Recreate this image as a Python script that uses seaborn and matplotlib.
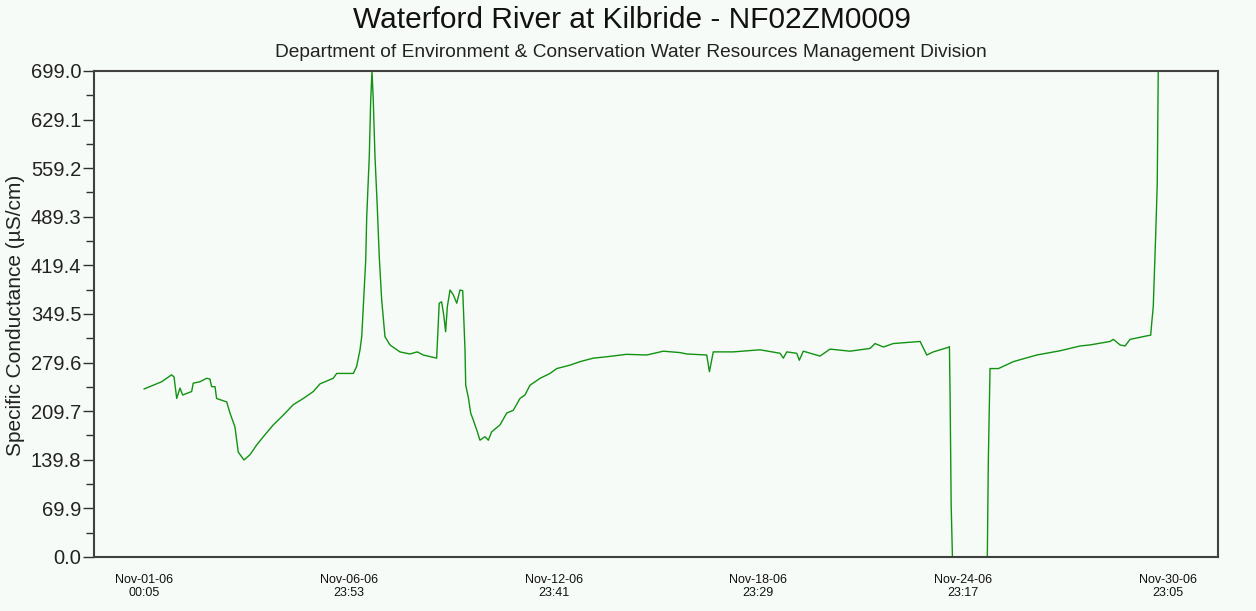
import matplotlib
matplotlib.use("Agg")

import matplotlib.dates as mdates
import matplotlib.pyplot as plt
import numpy as np
import pandas as pd
import seaborn as sns

# hours since the first reading (Nov-01-06 00:05)
hours = [
    0.0, 6.5, 12.4, 19.4, 21.1, 23.0, 25.3, 27.2, 33.5, 34.6, 39.3, 44.0,
    46.3, 47.5, 49.9, 51.0, 58.1, 60.4, 63.9, 66.2, 70.2, 74.4, 79.1, 83.8,
    90.8, 97.8, 104.8, 111.9, 118.9, 123.6, 132.9, 135.3, 147.0, 149.3,
    151.7, 152.9, 154.0, 155.7, 156.4, 158.2, 159.2, 160.1, 161.0, 162.2,
    163.8, 165.2, 166.9, 169.2, 172.7, 179.7, 186.7, 191.9, 196.1, 205.5,
    207.3, 209.0, 210.6, 211.8, 213.0, 214.9, 217.2, 219.6, 221.9, 223.8,
    225.4, 225.9, 227.7, 229.4, 231.2, 233.6, 235.9, 239.4, 241.8, 244.1,
    250.0, 254.7, 259.3, 264.0, 267.5, 271.0, 278.1, 285.1, 289.8, 299.2,
    306.2, 315.5, 324.9, 338.9, 353.0, 364.6, 376.3, 381.1, 395.1, 397.0,
    399.7, 413.8, 432.5, 446.6, 448.9, 451.3, 458.3, 460.1, 462.9, 474.6,
    481.7, 495.7, 509.8, 513.3, 519.1, 526.1, 544.9, 549.6, 554.2, 564.8,
    565.5, 566.0, 566.7, 567.6, 580.0, 592.1, 592.8, 594.0, 599.9, 610.4,
    626.8, 643.2, 657.2, 664.2, 678.3, 680.6, 685.3, 688.8, 692.3, 704.0,
    706.8, 707.5, 708.6, 709.3, 710.3, 711.4, 712.1,
]
conductance = [
    241.6, 247, 252, 262, 259, 228, 243, 233, 238, 250, 252, 257,
    256, 245, 245, 228, 223, 207, 187, 151, 139.5, 147, 161, 173,
    190, 204, 219, 228, 238, 249, 257, 264, 264, 274,
    298, 317, 360, 427, 489, 576, 657, 699, 657, 576,
    504, 432, 370, 317, 305, 295, 292, 295, 290.5, 286,
    365, 367, 346, 324, 360, 384, 377, 365, 384, 383,
    298, 247, 230, 207, 197, 183, 168, 173, 168, 180,
    190, 207, 211, 228, 233, 247, 257, 264, 271, 276,
    281, 286, 288, 291.5, 290.5, 296, 294, 292, 290.5, 266.5,
    295, 295, 298, 293, 286, 295, 293, 283, 296, 289,
    299, 296, 300, 307, 302, 307, 310, 290.5, 295, 301.6,
    302.5, 226, 77, 0, 0, 0, 137, 271, 271, 281,
    290.5, 296.6, 303.5, 305, 310, 313, 305, 303.5, 313, 318,
    319, 336, 360, 401, 463, 537, 699,
]

start = pd.Timestamp("2006-11-01 00:05")
tick_step_hours = 143.8
n_ticks = 6

title = "Waterford River at Kilbride - NF02ZM0009"
subtitle = "Department of Environment & Conservation Water Resources Management Division"
ylabel = "Specific Conductance (\u00b5S/cm)"

y_step = 69.9
y_max = 699.0

df = pd.DataFrame({
    "time": start + pd.to_timedelta(hours, unit="h"),
    "value": conductance,
})

sns.set_style("white")
plt.rcParams["font.family"] = ["Liberation Sans", "DejaVu Sans"]

bg = "#f6fbf7"
fig = plt.figure(figsize=(12.56, 6.11), dpi=100, facecolor=bg)
ax = fig.add_axes([0.0748, 0.0884, 0.8950, 0.7954])
ax.set_facecolor(bg)

sns.lineplot(data=df, x="time", y="value", ax=ax, color="#119211",
             linewidth=1.0, estimator=None, sort=False)

ticks = [start + pd.Timedelta(hours=tick_step_hours * k) for k in range(n_ticks)]
pad = pd.Timedelta(hours=35.1)
ax.set_xlim(ticks[0] - pad, ticks[-1] + pad)
ax.set_xticks(ticks)
ax.xaxis.set_major_formatter(mdates.DateFormatter("%b-%d-%y\n%H:%M"))

ax.set_ylim(0, y_max)
ax.set_yticks(np.arange(0, 11) * y_step)
ax.set_yticks(np.arange(0, 10) * y_step + y_step / 2, minor=True)
ax.yaxis.set_major_formatter(matplotlib.ticker.FormatStrFormatter("%.1f"))

ax.tick_params(axis="x", direction="in", length=8, width=1.2, color="#303030",
               labelsize=9, pad=12, labelcolor="#111111")
ax.tick_params(axis="y", which="major", direction="out", length=8, width=1.0,
               color="#303030", labelsize=14.5, pad=1, labelcolor="#222222", left=True)
ax.tick_params(axis="y", which="minor", direction="out", length=6, width=1.0,
               color="#303030", left=True)

for side in ["left", "right", "top", "bottom"]:
    ax.spines[side].set_color("#404040")
    ax.spines[side].set_linewidth(1.5)
    ax.spines[side].set_visible(True)

ax.set_xlabel("")
ax.set_ylabel(ylabel, fontsize=15, color="#222222", labelpad=3)
ax.yaxis.set_label_coords(-0.0617, 0.497)

fig.text(0.503, 0.968, title, ha="center", va="center", fontsize=21.5, color="#111111")
fig.text(0.502, 0.914, subtitle, ha="center", va="center", fontsize=13.8, color="#222222")

fig.savefig("out.png", dpi=100, facecolor=bg)
